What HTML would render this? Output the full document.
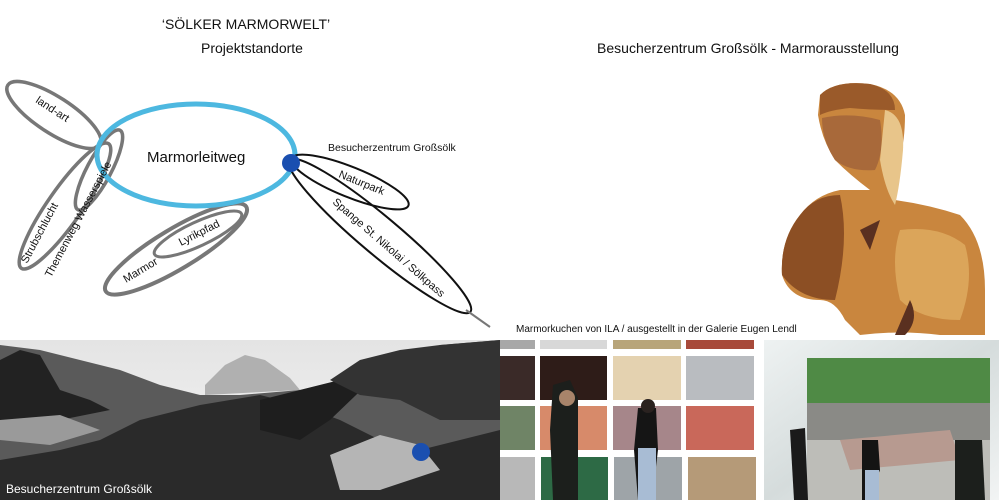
<!DOCTYPE html>
<html><head><meta charset="utf-8"><style>
html,body{margin:0;padding:0;background:#fff;}
svg{display:block;font-family:"Liberation Sans",sans-serif;}
</style></head><body>
<svg width="999" height="500" viewBox="0 0 999 500" xmlns="http://www.w3.org/2000/svg">
<defs>
<linearGradient id="sky" x1="0" y1="0" x2="0" y2="1"><stop offset="0" stop-color="#e4e4e4"/><stop offset="1" stop-color="#f6f6f6"/></linearGradient>
<linearGradient id="wall" x1="0" y1="0" x2="1" y2="1"><stop offset="0" stop-color="#eef2f2"/><stop offset="0.5" stop-color="#d5dcdc"/><stop offset="1" stop-color="#f2f4f4"/></linearGradient>
</defs>
<rect width="999" height="500" fill="#fff"/>
<text x="246" y="29" font-size="14" text-anchor="middle" fill="#111">‘SÖLKER MARMORWELT’</text>
<text x="252" y="53" font-size="14" text-anchor="middle" fill="#111">Projektstandorte</text>
<text x="748" y="53" font-size="14" text-anchor="middle" fill="#111">Besucherzentrum Großsölk - Marmorausstellung</text>

<g fill="none">
<ellipse cx="54" cy="115" rx="55" ry="18" transform="rotate(33 54 115)" stroke="#777" stroke-width="3.5"/>
<ellipse cx="99" cy="170" rx="45" ry="12" transform="rotate(-62 99 170)" stroke="#777" stroke-width="3.5"/>
<ellipse cx="65" cy="206" rx="76" ry="17" transform="rotate(-55 65 206)" stroke="#777" stroke-width="3.5"/>
<ellipse cx="176" cy="249" rx="82" ry="20" transform="rotate(-31 176 249)" stroke="#777" stroke-width="4"/>
<ellipse cx="198" cy="234" rx="48" ry="12" transform="rotate(-25 198 234)" stroke="#777" stroke-width="3"/>
<ellipse cx="196" cy="155" rx="99" ry="51" stroke="#4db8e0" stroke-width="5"/>
<ellipse cx="350" cy="182" rx="63" ry="15" transform="rotate(22 350 182)" stroke="#111" stroke-width="2"/>
<ellipse cx="380" cy="236" rx="118" ry="19" transform="rotate(40 380 236)" stroke="#111" stroke-width="2"/>
<line x1="466" y1="310" x2="490" y2="327" stroke="#777" stroke-width="2"/>
</g>
<circle cx="291" cy="163" r="9" fill="#1a4fb0"/>
<text x="147" y="162" font-size="15" fill="#111">Marmorleitweg</text>
<text x="328" y="151" font-size="10.5" fill="#111">Besucherzentrum Großsölk</text>
<text font-size="11" fill="#111" transform="translate(35 102) rotate(33)">land-art</text>
<text font-size="11" fill="#111" transform="translate(27 264) rotate(-62)">Strubschlucht</text>
<text font-size="11" fill="#111" transform="translate(51 278) rotate(-62)">Themenweg Wasserspiele</text>
<text font-size="11" fill="#111" transform="translate(126 283) rotate(-31)">Marmor</text>
<text font-size="11" fill="#111" transform="translate(181 246) rotate(-27)">Lyrikpfad</text>
<text font-size="11" fill="#111" transform="translate(338 177) rotate(22)">Naturpark</text>
<text font-size="11" fill="#111" transform="translate(332 203) rotate(41)">Spange St. Nikolai / Sölkpass</text>

<g>
<path d="M820 95 Q835 80 870 84 Q900 90 905 115 Q905 150 895 170 L895 200 Q930 205 960 215 Q985 240 985 290 L985 335 L940 335 Q900 330 860 335 L845 320 Q835 300 820 300 Q790 300 782 275 Q780 240 800 215 Q815 195 840 190 L870 190 Q850 175 835 160 Q822 140 818 115 Z" fill="#c9863e"/>
<path d="M820 95 Q835 80 870 84 Q895 90 895 110 Q870 110 850 108 Q830 110 820 115 Z" fill="#9a5a2a"/>
<path d="M822 118 Q850 112 880 120 Q885 150 875 170 Q850 172 835 160 Q822 140 822 118 Z" fill="#a8693a"/>
<path d="M782 275 Q780 240 800 215 Q815 195 840 195 Q850 240 835 300 Q800 300 782 275 Z" fill="#8c4f24"/>
<path d="M885 110 Q905 115 903 150 Q900 185 895 205 Q885 190 880 160 Z" fill="#e8c58a"/>
<path d="M900 230 Q940 225 965 245 Q975 280 960 320 Q920 320 900 300 Q890 260 900 230 Z" fill="#dba55a"/>
<path d="M860 230 L880 220 L870 250 Z M910 300 Q920 320 905 335 L895 335 Z" fill="#5a3020"/>
</g>

<text x="516" y="332" font-size="10" fill="#111">Marmorkuchen von ILA / ausgestellt in der Galerie Eugen Lendl</text>

<rect x="0" y="340" width="500" height="160" fill="url(#sky)"/>
<polygon points="205,385 225,365 245,355 265,360 290,378 300,390 205,395" fill="#b0b0b0"/>
<polygon points="0,345 40,350 80,360 120,370 160,385 200,395 240,395 300,390 360,375 400,360 440,345 500,340 500,500 0,500" fill="#5a5a5a"/>
<polygon points="0,360 20,350 40,355 60,390 90,400 110,410 60,420 0,420" fill="#222"/>
<polygon points="0,420 60,415 100,430 50,445 0,440" fill="#9a9a9a"/>
<polygon points="140,420 200,405 260,395 300,405 340,420 380,440 420,450 500,430 500,500 0,500 0,460 60,450 100,440" fill="#2a2a2a"/>
<polygon points="260,400 300,390 340,380 380,372 330,420 300,440 260,430" fill="#1e1e1e"/>
<polygon points="330,455 380,435 420,445 440,470 380,490 340,490" fill="#b5b5b5"/>
<polygon points="330,380 360,360 400,350 440,345 500,340 500,420 440,420 400,400 360,395" fill="#333"/>
<circle cx="421" cy="452" r="9" fill="#1a4fb0"/>
<text x="6" y="493" font-size="12" fill="#fff">Besucherzentrum Großsölk</text>

<rect x="500" y="340" width="257" height="160" fill="#fff"/>
<rect x="500" y="340" width="35" height="9" fill="#a8a8a8"/>
<rect x="540" y="340" width="67" height="9" fill="#d8d8d8"/>
<rect x="613" y="340" width="68" height="9" fill="#b8a57a"/>
<rect x="686" y="340" width="68" height="9" fill="#a84a3a"/>
<rect x="500" y="356" width="35" height="44" fill="#3a2a28"/>
<rect x="540" y="356" width="67" height="44" fill="#2e1c18"/>
<rect x="613" y="356" width="68" height="44" fill="#e4d2b0"/>
<rect x="686" y="356" width="68" height="44" fill="#b9bcc0"/>
<rect x="500" y="406" width="35" height="44" fill="#6f8466"/>
<rect x="540" y="406" width="67" height="44" fill="#d78a6a"/>
<rect x="613" y="406" width="68" height="44" fill="#a6868a"/>
<rect x="686" y="406" width="68" height="44" fill="#c9685a"/>
<rect x="500" y="457" width="35" height="43" fill="#b8b8b8"/>
<rect x="541" y="457" width="67" height="43" fill="#2d6a45"/>
<rect x="614" y="457" width="68" height="43" fill="#9ea4a8"/>
<rect x="688" y="457" width="68" height="43" fill="#b59a78"/>
<path d="M553 385 L570 380 L578 398 L578 500 L553 500 L550 430 Z" fill="#1c1f1c"/>
<circle cx="567" cy="398" r="8" fill="#a8846a"/>
<path d="M638 408 L656 408 L658 450 L652 500 L638 500 L634 450 Z" fill="#151515"/>
<rect x="638" y="448" width="18" height="52" fill="#a8bcd4"/>
<circle cx="648" cy="406" r="7" fill="#2a2220"/>

<rect x="764" y="340" width="235" height="160" fill="url(#wall)"/>
<rect x="807" y="358" width="183" height="142" fill="#8a8a86"/>
<rect x="807" y="358" width="183" height="45" fill="#4f8a45"/>
<rect x="807" y="440" width="183" height="60" fill="#bdbdb8"/>
<polygon points="840,440 950,430 960,460 850,470" fill="#b79a90"/>
<path d="M790 430 L805 428 L808 500 L794 500 Z" fill="#1a1a1a"/>
<path d="M862 440 L878 440 L880 470 L868 500 L862 500 Z" fill="#141414"/>
<rect x="865" y="470" width="14" height="30" fill="#a8bcd4"/>
<path d="M955 440 L982 440 L985 500 L955 500 Z" fill="#1c1f1c"/>
</svg>
</body></html>
